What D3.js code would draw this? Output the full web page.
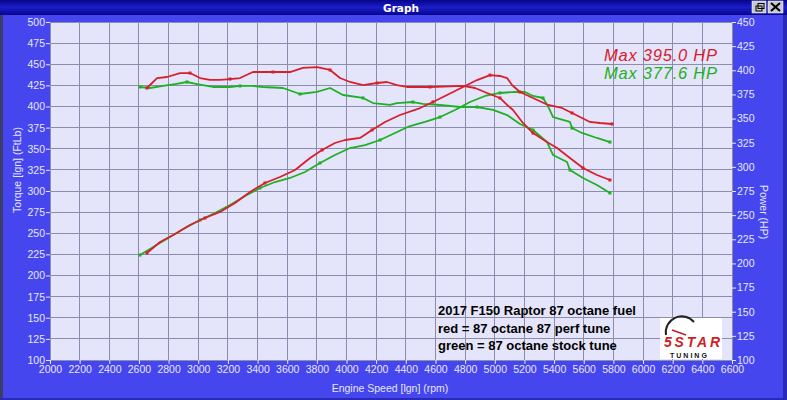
<!DOCTYPE html>
<html><head><meta charset="utf-8">
<script src="https://cdn.jsdelivr.net/npm/d3@7"></script>
<style>
html,body{margin:0;padding:0;background:#4646ee;}
svg{display:block;}
</style></head>
<body>
<svg id="chart" width="787" height="400"></svg>
<script>
// ---- data ----
const rpmTicks = d3.range(2000, 6601, 200);
const torqueTicks = d3.range(100, 501, 25);
const powerTicks = d3.range(100, 451, 25);

const redTorqueRpm = [2654,2722,2789,2877,2944,3012,3079,3147,3214,3282,3369,3437,3504,3619,3706,3801,3889,3956,4024,4111,4206,4273,4340,4408,4563,4786,4867,4948,5035,5083,5123,5190,5258,5352,5420,5507,5595,5689,5777];
const redTorque    = [421.9,433.7,434.9,439.6,439.6,433.7,431.4,431.4,432.5,433.7,440.8,440.8,440.8,440.8,445.6,446.7,443.2,433.7,429.0,425.4,427.8,429.0,425.4,423.1,423.1,424.3,421.9,416.0,410.1,401.8,395.9,380.5,368.6,358.0,350.9,339.1,327.2,318.9,313.0];

const redPowerRpm = [2654,2742,2843,2944,3045,3147,3248,3349,3450,3551,3653,3754,3835,3922,3990,4091,4172,4260,4361,4496,4583,4678,4786,4880,4968,5035,5083,5116,5170,5258,5359,5453,5521,5642,5710,5791];
const redPower    = [210.8,222.2,230.5,239.8,247.0,253.3,262.6,274.0,283.3,289.5,296.7,309.2,317.5,324.7,327.8,329.9,338.2,346.4,353.7,360.9,367.2,374.4,382.7,389.9,395.0,394.1,392.0,384.8,377.5,371.3,364.1,361.0,355.8,346.5,345.4,344.4];

const greenTorqueRpm = [2607,2675,2762,2843,2924,2992,3099,3214,3282,3369,3437,3572,3686,3801,3889,3976,4111,4179,4293,4340,4448,4516,4631,4765,4880,4988,5083,5170,5258,5352,5393,5487,5507,5595,5689,5777];
const greenTorque    = [423.1,421.9,424.3,426.6,429.0,426.6,423.1,423.1,424.3,424.3,423.1,421.9,414.8,417.2,421.9,413.6,410.1,404.1,401.8,404.1,405.3,403.0,401.8,399.4,399.4,395.9,389.9,379.3,372.2,358.0,342.6,334.3,324.9,315.4,307.1,297.6];

const greenPowerRpm = [2607,2708,2809,2911,3012,3113,3214,3315,3416,3518,3619,3720,3821,3922,4024,4125,4226,4327,4428,4529,4631,4732,4833,4934,5035,5136,5204,5258,5325,5359,5393,5507,5521,5588,5689,5777];
const greenPower    = [208.7,218.0,227.4,236.7,245.0,252.2,260.5,269.8,278.1,284.3,288.5,294.7,304.0,312.3,319.5,322.6,327.8,335.1,342.3,346.5,351.6,358.9,367.2,373.4,376.5,377.6,377.5,373.4,371.3,363.0,351.6,346.5,340.2,335.1,329.9,325.7];

const maxLabels = ["Max 395.0 HP", "Max 377.6 HP"];
const noteLines = ["2017 F150 Raptor 87 octane fuel", "red = 87 octane 87 perf tune", "green = 87 octane stock tune"];

// ---- drawing ----
const W = 787, H = 400;
const svg = d3.select("#chart");
const RED = "#d8202c", GREEN = "#1fb024";
const x = d3.scaleLinear().domain([2000, 6600]).range([50, 732]);
const yT = d3.scaleLinear().domain([100, 500]).range([360, 22]);
const yP = d3.scaleLinear().domain([100, 450]).range([360, 22]);

const defs = svg.append("defs");
const tg = defs.append("linearGradient").attr("id", "tb").attr("x1", 0).attr("y1", 0).attr("x2", 0).attr("y2", 1);
tg.append("stop").attr("offset", "0%").attr("stop-color", "#05058a");
tg.append("stop").attr("offset", "50%").attr("stop-color", "#1c1cc8");
tg.append("stop").attr("offset", "100%").attr("stop-color", "#06068e");

// window background
svg.append("rect").attr("width", W).attr("height", H).attr("fill", "#4646ee");
svg.append("rect").attr("x", 0).attr("y", 0).attr("width", 3).attr("height", H).attr("fill", "#3c3c6a");
svg.append("rect").attr("x", W - 4).attr("y", 0).attr("width", 4).attr("height", H).attr("fill", "#2a2ab8");
svg.append("rect").attr("x", 0).attr("y", H - 2).attr("width", W).attr("height", 2).attr("fill", "#2a2ab8");

// title bar
svg.append("rect").attr("width", W).attr("height", 15).attr("fill", "url(#tb)");
svg.append("text").attr("x", 401).attr("y", 11.5).attr("text-anchor", "middle")
  .attr("font-family", "DejaVu Sans, sans-serif").attr("font-weight", "bold").attr("font-size", 10.5)
  .attr("fill", "#ffffff").text("Graph");
// window buttons
const btn = svg.append("g");
btn.append("rect").attr("x", 752).attr("y", 1).attr("width", 14).attr("height", 12).attr("fill", "#c8c8d0").attr("stroke", "#ffffff").attr("stroke-width", 0.5);
btn.append("rect").attr("x", 756).attr("y", 6).attr("width", 6).attr("height", 5).attr("fill", "none").attr("stroke", "#000").attr("stroke-width", 1);
btn.append("rect").attr("x", 758).attr("y", 3.5).attr("width", 6).attr("height", 5).attr("fill", "none").attr("stroke", "#000").attr("stroke-width", 1);
btn.append("rect").attr("x", 768).attr("y", 1).attr("width", 15).attr("height", 12).attr("fill", "#c8c8d0").attr("stroke", "#ffffff").attr("stroke-width", 0.5);
btn.append("path").attr("d", "M771,3 L780,11 M780,3 L771,11").attr("stroke", "#000").attr("stroke-width", 2);

// plot background
svg.append("rect").attr("x", x(2000)).attr("y", yT(500)).attr("width", x(6600) - x(2000))
  .attr("height", yT(100) - yT(500)).attr("fill", "#e4e4fa");

// grid
const grid = svg.append("g").attr("stroke", "#8c8cac").attr("stroke-width", 1).attr("shape-rendering", "crispEdges");
grid.selectAll("line.v").data(rpmTicks).join("line")
  .attr("x1", d => x(d)).attr("x2", d => x(d)).attr("y1", yT(500)).attr("y2", yT(100));
grid.selectAll("line.h").data(torqueTicks).join("line").attr("class", "h")
  .attr("x1", x(2000)).attr("x2", x(6600)).attr("y1", d => yT(d)).attr("y2", d => yT(d));

// axes
const font = "Liberation Sans, Arial, sans-serif";
const labelColor = "#e6e6ff";
function styleAxis(g) {
  g.select(".domain").remove();
  g.selectAll(".tick line").attr("stroke", labelColor);
  g.selectAll(".tick text").attr("fill", labelColor).attr("font-family", font).attr("font-size", 10.5);
}
svg.append("g").attr("transform", `translate(0,${yT(100)})`)
  .call(d3.axisBottom(x).tickValues(rpmTicks).tickSize(4).tickPadding(2).tickFormat(d3.format("d")))
  .call(styleAxis);
svg.append("g").attr("transform", `translate(${x(2000)},0)`)
  .call(d3.axisLeft(yT).tickValues(torqueTicks).tickSize(4).tickPadding(1).tickFormat(d3.format("d")))
  .call(styleAxis);
svg.append("g").attr("transform", `translate(${x(6600)},0)`)
  .call(d3.axisRight(yP).tickValues(powerTicks).tickSize(4).tickPadding(1).tickFormat(d3.format("d")))
  .call(styleAxis);

// axis titles
svg.append("text").attr("x", 390).attr("y", 392).attr("text-anchor", "middle")
  .attr("font-family", font).attr("font-size", 10.5).attr("fill", labelColor).text("Engine Speed [lgn] (rpm)");
svg.append("text").attr("transform", "translate(21,170) rotate(-90)").attr("text-anchor", "middle")
  .attr("font-family", font).attr("font-size", 10.5).attr("fill", labelColor).text("Torque [lgn] (FtLb)");
svg.append("text").attr("transform", "translate(760,212) rotate(90)").attr("text-anchor", "middle")
  .attr("font-family", font).attr("font-size", 10.5).attr("fill", labelColor).text("Power (HP)");

// curves
function curve(rpms, vals, yScale, color) {
  const pts = rpms.map((r, i) => [r, vals[i]]);
  svg.append("path").datum(pts)
    .attr("fill", "none").attr("stroke", color).attr("stroke-width", 1.8).attr("stroke-linejoin", "round")
    .attr("d", d3.line().x(d => x(d[0])).y(d => yScale(d[1])));
  svg.append("g").selectAll("rect").data(pts.filter((d, i) => i % 4 === 0 || i === pts.length - 1)).join("rect")
    .attr("x", d => x(d[0]) - 1.5).attr("y", d => yScale(d[1]) - 1.5)
    .attr("width", 3).attr("height", 3).attr("fill", color);
}
curve(greenTorqueRpm, greenTorque, yT, GREEN);
curve(greenPowerRpm, greenPower, yP, GREEN);
curve(redTorqueRpm, redTorque, yT, RED);
curve(redPowerRpm, redPower, yP, RED);

// max labels
const maxColors = [RED, GREEN];
svg.selectAll("text.max").data(maxLabels).join("text").attr("class", "max")
  .attr("x", 604).attr("y", (d, i) => 61 + i * 18)
  .attr("font-family", font).attr("font-style", "italic").attr("font-size", 16.5)
  .attr("fill", (d, i) => maxColors[i]).attr("textLength", 113).text(d => d);

// note text
svg.selectAll("text.note").data(noteLines).join("text").attr("class", "note")
  .attr("x", 438).attr("y", (d, i) => 315 + i * 17.5)
  .attr("font-family", font).attr("font-weight", "bold").attr("font-size", 13)
  .attr("fill", "#000").text(d => d);

// logo
const logo = svg.append("g");
logo.append("rect").attr("x", 660).attr("y", 318).attr("width", 62).attr("height", 41).attr("fill", "#ffffff");
logo.append("path").attr("d", "M666,335 A16,16 0 0 1 694,322").attr("fill", "none").attr("stroke", "#222").attr("stroke-width", 2);
logo.append("path").attr("d", "M672,330 L686,335").attr("stroke", "#c0202a").attr("stroke-width", 1.5);
logo.append("text").attr("x", 664).attr("y", 347).attr("font-family", font).attr("font-weight", "bold")
  .attr("font-style", "italic").attr("font-size", 14).attr("fill", "#cc1f28").attr("textLength", 56).text("5STAR");
logo.append("text").attr("x", 670).attr("y", 357.5).attr("font-family", font).attr("font-weight", "bold")
  .attr("font-size", 7).attr("letter-spacing", 2).attr("fill", "#111").text("TUNING");
</script>
</body></html>
